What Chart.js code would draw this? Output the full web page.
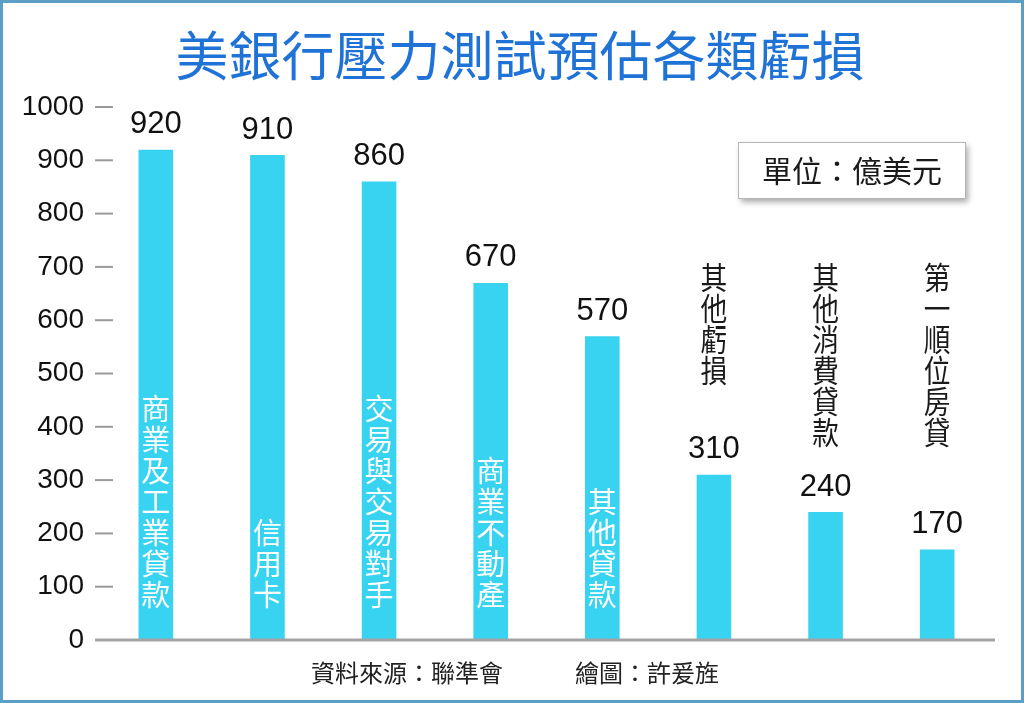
<!DOCTYPE html>
<html>
<head>
<meta charset="utf-8">
<script src="https://cdn.jsdelivr.net/npm/chart.js@4/dist/chart.umd.min.js"></script>
<style>
    html, body { margin: 0; padding: 0; background: #ffffff; }
    #wrap { position: relative; width: 1024px; height: 703px; }
    #frame {
        position: absolute; left: 0; top: 0; width: 1024px; height: 703px;
        box-sizing: border-box; border: 3px solid #5b9fc6; pointer-events: none;
    }
</style>
</head>
<body>
<div id="wrap">
    <canvas id="lossChart" width="1024" height="703"></canvas>
    <div id="frame"></div>
</div>
<script>
// Chart data
const categories = ['商業及工業貸款', '信用卡', '交易與交易對手', '商業不動產', '其他貸款', '其他虧損', '其他消費貸款', '第一順位房貸'];
const lossValues = [920, 910, 860, 670, 570, 310, 240, 170];
const labelInside = [true, true, true, true, true, false, false, false];
const yTicks = [0, 100, 200, 300, 400, 500, 600, 700, 800, 900, 1000];

const titleText = '美銀行壓力測試預估各類虧損';
const unitText = '單位：億美元';
const sourceText = '資料來源：聯準會　　　繪圖：許爰旌';

const CJK = "'Noto Sans CJK TC', sans-serif";
const NUM = "'Liberation Sans', Arial, sans-serif";
const BAR_COLOR = '#38d3f0';

// Draws title, tick dashes, bar labels, unit box and source line
const annotatePlugin = {
    id: 'annotate',
    afterDraw(chart) {
        const ctx = chart.ctx;
        const area = chart.chartArea;
        const yScale = chart.scales.y;
        const meta = chart.getDatasetMeta(0);

        ctx.save();
        ctx.textAlign = 'center';
        ctx.textBaseline = 'middle';

        // title
        ctx.fillStyle = '#1f72d6';
        ctx.font = '53px ' + CJK;
        ctx.fillText(titleText, 520, 56);

        // short gray tick dashes next to the y labels
        ctx.strokeStyle = '#9a9a9a';
        ctx.lineWidth = 2;
        yTicks.forEach(v => {
            if (v === 0) return;
            const y = yScale.getPixelForValue(v);
            ctx.beginPath();
            ctx.moveTo(area.left - 5, y);
            ctx.lineTo(area.left + 13, y);
            ctx.stroke();
        });

        // base line
        ctx.strokeStyle = '#a3a3a3';
        ctx.lineWidth = 3;
        ctx.beginPath();
        ctx.moveTo(area.left - 5, area.bottom);
        ctx.lineTo(area.right + 2, area.bottom);
        ctx.stroke();

        const step = 31;

        meta.data.forEach((bar, i) => {
            // value above the bar
            ctx.fillStyle = '#111111';
            ctx.font = '31px ' + NUM;
            ctx.fillText(String(lossValues[i]), bar.x, bar.y - 25);

            // vertical category label
            const chars = Array.from(categories[i]);
            ctx.font = '29px ' + CJK;
            if (labelInside[i]) {
                ctx.fillStyle = '#ffffff';
                const lastY = bar.base - 45;
                chars.forEach((c, k) => {
                    ctx.fillText(c, bar.x, lastY - (chars.length - 1 - k) * step);
                });
            } else {
                ctx.fillStyle = '#1a1a1a';
                const firstY = area.top + 170;
                chars.forEach((c, k) => {
                    ctx.save();
                    ctx.translate(bar.x, firstY + k * step);
                    ctx.scale(0.92, 1.05);
                    ctx.fillText(c, 0, 0);
                    ctx.restore();
                });
            }
        });

        // unit box
        ctx.save();
        ctx.shadowColor = 'rgba(0,0,0,0.35)';
        ctx.shadowBlur = 6;
        ctx.shadowOffsetX = 3;
        ctx.shadowOffsetY = 4;
        ctx.fillStyle = '#ffffff';
        ctx.fillRect(738, 142, 227, 56);
        ctx.restore();
        ctx.strokeStyle = '#b5b5b5';
        ctx.lineWidth = 1;
        ctx.strokeRect(738.5, 142.5, 227, 56);
        ctx.fillStyle = '#1a1a1a';
        ctx.font = '30px ' + CJK;
        ctx.fillText(unitText, 852, 171);

        // source line
        ctx.fillStyle = '#222222';
        ctx.font = '24px ' + CJK;
        ctx.fillText(sourceText, 515, 673);

        ctx.restore();
    }
};

function createLossChart() {
    const canvas = document.getElementById('lossChart');
    if (!canvas) return null;

    return new Chart(canvas, {
        type: 'bar',
        data: {
            labels: categories,
            datasets: [{
                label: '虧損',
                data: lossValues,
                backgroundColor: BAR_COLOR,
                borderWidth: 0,
                barPercentage: 0.31,
                categoryPercentage: 1.0
            }]
        },
        options: {
            responsive: false,
            animation: false,
            devicePixelRatio: 1,
            layout: {
                padding: { left: 0, right: 31, top: 107, bottom: 63 }
            },
            scales: {
                x: {
                    grid: { display: false },
                    border: { display: false },
                    ticks: { display: false },
                    afterFit(scale) { scale.height = 0; }
                },
                y: {
                    min: 0,
                    max: 1000,
                    afterBuildTicks(scale) {
                        scale.ticks = yTicks.map(v => ({ value: v }));
                    },
                    grid: { display: false, drawTicks: false },
                    border: { display: false },
                    ticks: {
                        color: '#111111',
                        padding: 16,
                        font: { family: NUM, size: 28 },
                        callback: v => String(v)
                    },
                    afterFit(scale) { scale.width = 100; }
                }
            },
            plugins: {
                legend: { display: false },
                tooltip: { enabled: false },
                title: { display: false }
            }
        },
        plugins: [annotatePlugin]
    });
}

createLossChart();
</script>
</body>
</html>
